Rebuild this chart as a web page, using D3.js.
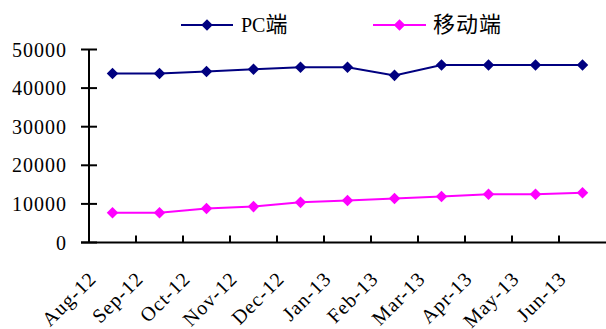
<!DOCTYPE html>
<html>
<head>
<meta charset="utf-8">
<script src="https://cdn.jsdelivr.net/npm/d3@7/dist/d3.min.js"></script>
<style>
  html, body { margin: 0; padding: 0; background: #fff; }
  svg { display: block; }
</style>
</head>
<body>
<svg id="chart" width="606" height="329"></svg>
<script>
// Monthly visits by platform
const months = ["Aug-12", "Sep-12", "Oct-12", "Nov-12", "Dec-12", "Jan-13",
                "Feb-13", "Mar-13", "Apr-13", "May-13", "Jun-13"];
const pcValues = [43800, 43800, 44300, 44900, 45400, 45400, 43300, 46000, 46000, 46000, 46000];
const mobileValues = [7700, 7700, 8800, 9300, 10400, 10900, 11400, 11900, 12500, 12500, 12900];
const yTicks = [0, 10000, 20000, 30000, 40000, 50000];
const seriesNames = ["PC端", "移动端"];
const seriesColors = ["#000080", "#FF00FF"];

const FONT = "'Liberation Serif', 'DejaVu Serif', 'Noto Sans CJK SC', serif";
const CJK_FONT = "'Noto Sans CJK SC', 'Liberation Serif', serif";

const svg = d3.select("#chart");
const plot = { left: 89, right: 606, top: 49.5, bottom: 242.5 };

const x = d3.scaleBand().domain(months).range([plot.left, plot.right]);
const y = d3.scaleLinear().domain([0, 50000]).range([plot.bottom, plot.top]);
const cx = m => x(m) + x.bandwidth() / 2;

// Y axis: line with ticks crossing both sides
const yAxis = svg.append("g");
yAxis.append("line")
  .attr("x1", plot.left).attr("x2", plot.left)
  .attr("y1", y(50000)).attr("y2", y(0))
  .attr("stroke", "#000").attr("stroke-width", 2);
yAxis.selectAll("line.tick").data(yTicks).enter().append("line")
  .attr("class", "tick")
  .attr("x1", plot.left - 8).attr("x2", plot.left + 8)
  .attr("y1", d => y(d)).attr("y2", d => y(d))
  .attr("stroke", "#000").attr("stroke-width", 2);
yAxis.selectAll("text").data(yTicks).enter().append("text")
  .attr("x", 67).attr("y", d => y(d))
  .attr("dy", "0.35em")
  .attr("text-anchor", "end")
  .attr("font-family", FONT)
  .attr("font-size", 20)
  .attr("letter-spacing", 1)
  .text(d => d);

// X axis: baseline with inward ticks at category boundaries
const xAxis = svg.append("g");
xAxis.append("line")
  .attr("x1", plot.left - 8).attr("x2", plot.right)
  .attr("y1", y(0)).attr("y2", y(0))
  .attr("stroke", "#000").attr("stroke-width", 2);
const bounds = months.slice(0, -1).map(m => x(m) + x.bandwidth());
xAxis.selectAll("line.tick").data(bounds).enter().append("line")
  .attr("class", "tick")
  .attr("x1", d => d).attr("x2", d => d)
  .attr("y1", y(0)).attr("y2", y(0) - 7)
  .attr("stroke", "#000").attr("stroke-width", 2);
xAxis.selectAll("text").data(months).enter().append("text")
  .attr("transform", d => `translate(${cx(d) - 15},${280}) rotate(-45)`)
  .attr("text-anchor", "end")
  .attr("font-family", FONT)
  .attr("font-size", 20)
  .attr("letter-spacing", 1)
  .text(d => d);

// Series lines and diamond markers
const line = d3.line()
  .x((d, i) => cx(months[i]))
  .y(d => y(d));
const diamond = d3.symbol().type(d3.symbolDiamond2).size(85);

[pcValues, mobileValues].forEach((vals, s) => {
  const g = svg.append("g");
  g.append("path")
    .datum(vals)
    .attr("d", line)
    .attr("fill", "none")
    .attr("stroke", seriesColors[s])
    .attr("stroke-width", 2);
  g.selectAll("path.pt").data(vals).enter().append("path")
    .attr("class", "pt")
    .attr("d", diamond)
    .attr("transform", (d, i) => `translate(${cx(months[i])},${y(d)})`)
    .attr("fill", seriesColors[s]);
});

// Legend
const legendItems = [{ x1: 181, x2: 233, tx: 241 }, { x1: 373, x2: 426, tx: 433 }];
const legendY = 25;
legendItems.forEach((it, s) => {
  const g = svg.append("g");
  g.append("line")
    .attr("x1", it.x1).attr("x2", it.x2)
    .attr("y1", legendY).attr("y2", legendY)
    .attr("stroke", seriesColors[s]).attr("stroke-width", 2);
  g.append("path")
    .attr("d", diamond)
    .attr("transform", `translate(${(it.x1 + it.x2) / 2},${legendY})`)
    .attr("fill", seriesColors[s]);
  const t = g.append("text")
    .attr("x", it.tx).attr("y", legendY)
    .attr("dy", "0.35em")
    .attr("font-family", FONT)
    .attr("font-size", 20);
  // Latin runs in the serif face, CJK runs slightly larger
  const runs = seriesNames[s].match(/[\u4e00-\u9fff]+|[^\u4e00-\u9fff]+/g);
  runs.forEach(r => {
    const isCJK = /[\u4e00-\u9fff]/.test(r);
    t.append("tspan")
      .attr("font-family", isCJK ? CJK_FONT : FONT)
      .attr("font-size", isCJK ? 22 : 20)
      .attr("letter-spacing", isCJK ? 1 : 0)
      .text(r);
  });
});
</script>
</body>
</html>
